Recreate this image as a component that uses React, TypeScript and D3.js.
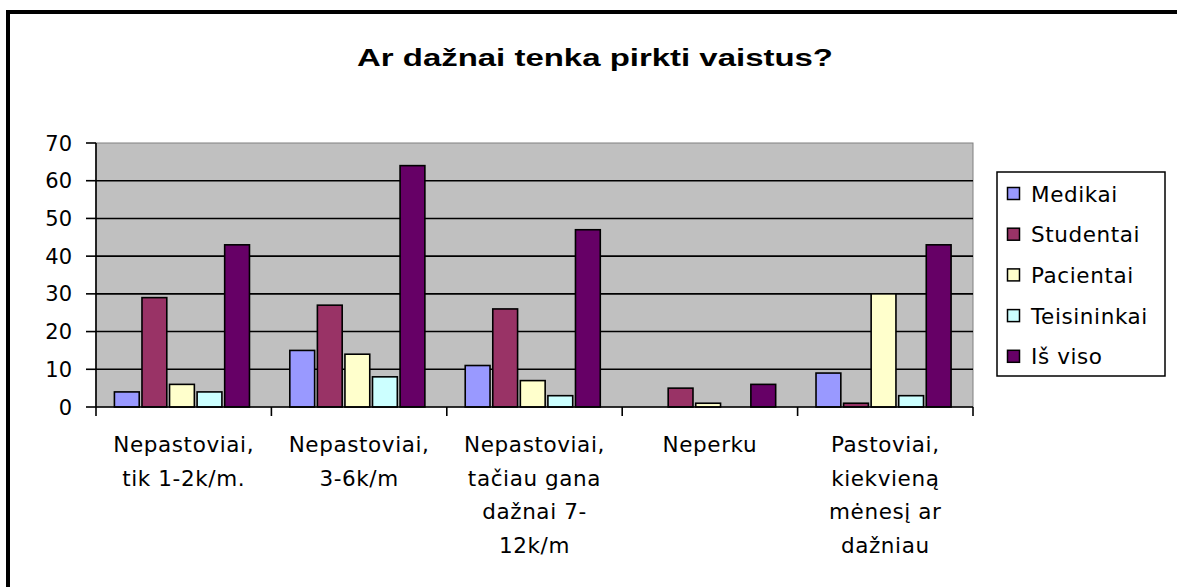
import React from 'react';
import * as d3 from 'd3';

// chart data
const categories = [
  ['Nepastoviai,', 'tik 1-2k/m.'],
  ['Nepastoviai,', '3-6k/m'],
  ['Nepastoviai,', 'tačiau gana', 'dažnai 7-', '12k/m'],
  ['Neperku'],
  ['Pastoviai,', 'kiekvieną', 'mėnesį ar', 'dažniau'],
];
const seriesNames = ['Medikai', 'Studentai', 'Pacientai', 'Teisininkai', 'Iš viso'];
const seriesColors = ['#9999FF', '#993366', '#FFFFCC', '#CCFFFF', '#660066'];
const medikai = [4, 15, 11, 0, 9];
const studentai = [29, 27, 26, 5, 1];
const pacientai = [6, 14, 7, 1, 30];
const teisininkai = [4, 8, 3, 0, 3];
const isViso = [43, 64, 47, 6, 43];
const yTicks = [0, 10, 20, 30, 40, 50, 60, 70];

const seriesValues = [medikai, studentai, pacientai, teisininkai, isViso];

const W = 1177;
const H = 587;
const plot = { left: 96, right: 973, top: 143, bottom: 407 };
const font = '"DejaVu Sans", Verdana, sans-serif';

export default function App() {
  const x = d3
    .scaleBand<number>()
    .domain(categories.map((_, i) => i))
    .range([plot.left, plot.right]);
  const bw = x.bandwidth();
  const xInner = d3
    .scaleBand<number>()
    .domain(seriesNames.map((_, i) => i))
    .range([bw * 0.105, bw * 0.875])
    .paddingInner(0.1);
  const y = d3.scaleLinear().domain([0, 70]).range([plot.bottom, plot.top]);

  const catEdges = d3.range(categories.length + 1).map((i) =>
    i < categories.length ? x(i)! : plot.right
  );

  return (
    <svg
      width={W}
      height={H}
      style={{ position: 'absolute', left: 0, top: 0, background: '#fff' }}
    >
      {/* outer frame */}
      <rect x={8} y={12} width={W + 20} height={H + 20} fill="#fff" stroke="#000" strokeWidth={4} />

      <text
        x={357}
        y={66}
        fontFamily='"Liberation Sans", Arial, sans-serif'
        fontWeight="bold"
        fontSize={23}
        textLength={476}
        lengthAdjust="spacingAndGlyphs"
        fill="#000"
      >
        Ar dažnai tenka pirkti vaistus?
      </text>

      {/* plot area */}
      <rect
        x={plot.left}
        y={plot.top}
        width={plot.right - plot.left}
        height={plot.bottom - plot.top}
        fill="#C0C0C0"
        stroke="#808080"
        strokeWidth={1}
      />
      {yTicks
        .filter((t) => t > 0 && t < 70)
        .map((t) => (
          <line key={t} x1={plot.left} x2={plot.right} y1={y(t)} y2={y(t)} stroke="#000" strokeWidth={1.6} />
        ))}

      {/* bars */}
      {categories.map((_, ci) =>
        seriesNames.map((s, si) => {
          const v = seriesValues[si][ci];
          if (!v) return null;
          return (
            <rect
              key={s + ci}
              x={x(ci)! + xInner(si)!}
              y={y(v)}
              width={xInner.bandwidth()}
              height={y(0) - y(v)}
              fill={seriesColors[si]}
              stroke="#000"
              strokeWidth={1.6}
            />
          );
        })
      )}

      {/* axes */}
      <line x1={plot.left} x2={plot.left} y1={plot.top} y2={plot.bottom} stroke="#000" strokeWidth={1.6} />
      <line x1={plot.left} x2={plot.right} y1={plot.bottom} y2={plot.bottom} stroke="#000" strokeWidth={1.6} />
      {yTicks.map((t) => (
        <g key={t}>
          <line x1={plot.left - 10} x2={plot.left} y1={y(t)} y2={y(t)} stroke="#000" strokeWidth={1.6} />
          <text
            x={72}
            y={y(t)}
            dy="0.36em"
            textAnchor="end"
            fontFamily={font}
            fontSize={21}
            fill="#000"
          >
            {t}
          </text>
        </g>
      ))}
      {catEdges.map((e, i) => (
        <line key={i} x1={e} x2={e} y1={plot.bottom} y2={plot.bottom + 9} stroke="#000" strokeWidth={1.6} />
      ))}
      {categories.map((lines, ci) => (
        <text
          key={ci}
          x={x(ci)! + bw / 2}
          y={452}
          textAnchor="middle"
          fontFamily={font}
          fontSize={21.5}
          letterSpacing={0.6}
          fill="#000"
        >
          {lines.map((l, li) => (
            <tspan key={li} x={x(ci)! + bw / 2} dy={li === 0 ? 0 : 33.5}>
              {l}
            </tspan>
          ))}
        </text>
      ))}

      {/* legend */}
      <rect x={997} y={172} width={168} height={204} fill="#fff" stroke="#000" strokeWidth={1.5} />
      {seriesNames.map((s, i) => {
        const cy = 193.5 + i * 40.7;
        return (
          <g key={s}>
            <rect x={1007.5} y={cy - 6} width={12} height={12} fill={seriesColors[i]} stroke="#000" strokeWidth={1.5} />
            <text x={1031} y={cy + 8} fontFamily={font} fontSize={21.5} letterSpacing={0.6} fill="#000">
              {s}
            </text>
          </g>
        );
      })}
    </svg>
  );
}
